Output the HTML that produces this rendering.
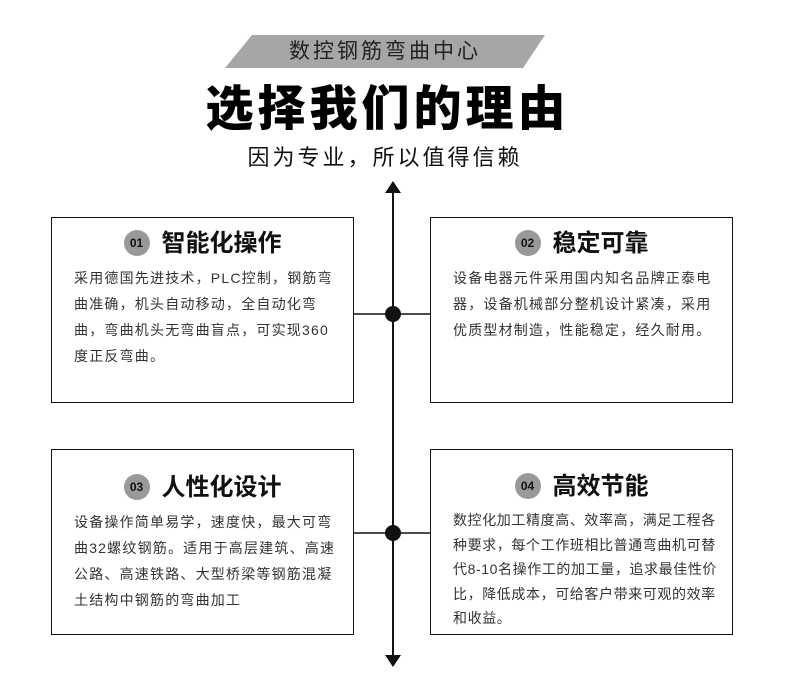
<!DOCTYPE html>
<html><head><meta charset="utf-8"><style>
body{margin:0;width:790px;height:691px;background:#fff;position:relative;overflow:hidden;font-family:"Liberation Sans","Noto Sans CJK SC",sans-serif;color:#222}
.a{position:absolute}
.box{position:absolute;border:1.5px solid #111;box-sizing:border-box;width:303px;height:186px;background:#fff}
.t{position:absolute;left:0;width:100%;text-align:center;font-size:24px;font-weight:bold;color:#111;white-space:nowrap}
.b{display:inline-block;width:26px;height:26px;border-radius:50%;background:#999;font-size:12px;line-height:26px;color:#111;vertical-align:4px;margin-right:12px;text-align:center}
.p{position:absolute;left:22px;font-size:14px;line-height:26px;letter-spacing:1.2px;color:#333;white-space:nowrap}
</style></head><body>
<svg class="a" style="left:0;top:0" width="790" height="691">
<polygon points="252,35 545,35 523,68 225,68" fill="#a6a6a6"/>
<line x1="393" y1="190" x2="393" y2="660" stroke="#111" stroke-width="2"/>
<polygon points="385,193 401,193 393,181" fill="#111"/>
<polygon points="385,655 401,655 393,667" fill="#111"/>
<line x1="353" y1="314" x2="430" y2="314" stroke="#111" stroke-width="1.5"/>
<line x1="353" y1="533" x2="430" y2="533" stroke="#111" stroke-width="1.5"/>
<circle cx="393" cy="314" r="8" fill="#111"/>
<circle cx="393" cy="533" r="8" fill="#111"/>
</svg>
<div class="a" style="left:225px;top:35px;width:320px;height:33px;line-height:33px;text-align:center;font-size:21px;letter-spacing:3px;color:#222">数控钢筋弯曲中心</div>
<div class="a" style="left:0;top:80px;width:775px;text-align:center;font-size:48px;font-weight:900;letter-spacing:4px;line-height:60px;color:#000">选择我们的理由</div>
<div class="a" style="left:0;top:142px;width:770px;text-align:center;font-size:22px;letter-spacing:3px;line-height:32px;color:#111">因为专业，所以值得信赖</div>

<div class="box" style="left:51px;top:217px">
<div class="t" style="top:10px;line-height:32px"><span class="b">01</span>智能化操作</div>
<div class="p" style="top:47px">采用德国先进技术，PLC控制，钢筋弯<br>曲准确，机头自动移动，全自动化弯<br>曲，弯曲机头无弯曲盲点，可实现360<br>度正反弯曲。</div>
</div>
<div class="box" style="left:430px;top:217px">
<div class="t" style="top:10px;line-height:32px"><span class="b">02</span>稳定可靠</div>
<div class="p" style="top:47px">设备电器元件采用国内知名品牌正泰电<br>器，设备机械部分整机设计紧凑，采用<br>优质型材制造，性能稳定，经久耐用。</div>
</div>
<div class="box" style="left:51px;top:449px">
<div class="t" style="top:22px;line-height:32px"><span class="b">03</span>人性化设计</div>
<div class="p" style="top:59px">设备操作简单易学，速度快，最大可弯<br>曲32螺纹钢筋。适用于高层建筑、高速<br>公路、高速铁路、大型桥梁等钢筋混凝<br>土结构中钢筋的弯曲加工</div>
</div>
<div class="box" style="left:430px;top:449px">
<div class="t" style="top:21px;line-height:32px"><span class="b">04</span>高效节能</div>
<div class="p" style="top:58px;line-height:24.5px;letter-spacing:0.6px">数控化加工精度高、效率高，满足工程各<br>种要求，每个工作班相比普通弯曲机可替<br>代8-10名操作工的加工量，追求最佳性价<br>比，降低成本，可给客户带来可观的效率<br>和收益。</div>
</div>
</body></html>
